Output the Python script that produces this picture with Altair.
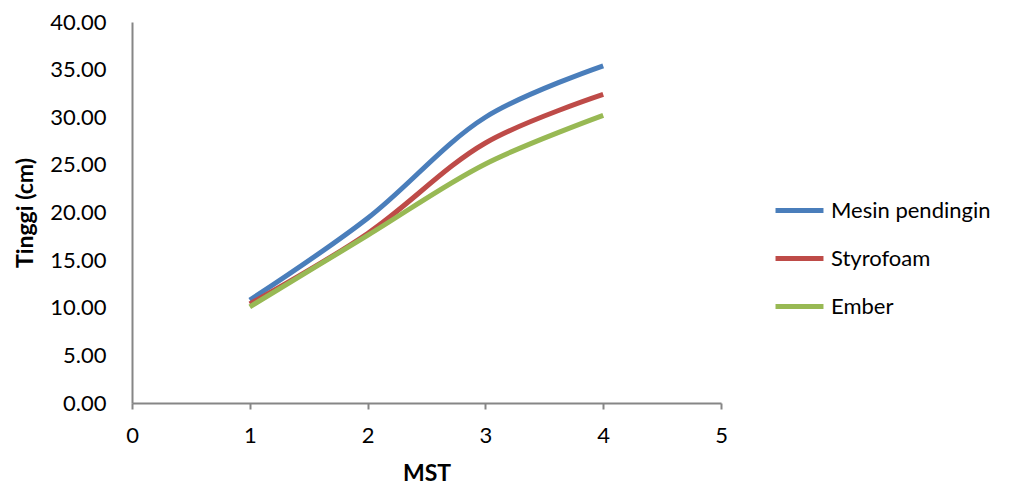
import altair as alt
import pandas as pd

mst = [1, 2, 3, 4]
mesin = [10.8, 19.4, 30.0, 35.4]
styrofoam = [10.4, 17.8, 27.3, 32.4]
ember = [10.1, 17.6, 25.1, 30.2]
series = ["Mesin pendingin", "Styrofoam", "Ember"]
colors = ["#4A7EBB", "#BE4B48", "#98B954"]

rows = []
for name, vals in zip(series, [mesin, styrofoam, ember]):
    for x, v in zip(mst, vals):
        rows.append({"MST": x, "Tinggi": v, "Seri": name})
df = pd.DataFrame(rows)

font = "Lato"

chart = alt.Chart(df).mark_line(strokeWidth=5, interpolate="catmull-rom").encode(
    x=alt.X("MST:Q", title="MST",
            scale=alt.Scale(domain=[0, 5], nice=False),
            axis=alt.Axis(values=[0, 1, 2, 3, 4, 5], format="d", grid=False,
                          labelFlush=False,
                          tickSize=6, labelPadding=16, titlePadding=16,
                          domainColor="#868686", tickColor="#868686", domainWidth=2, tickWidth=2)),
    y=alt.Y("Tinggi:Q", title="Tinggi (cm)",
            scale=alt.Scale(domain=[0, 40], nice=False),
            axis=alt.Axis(values=[0, 5, 10, 15, 20, 25, 30, 35, 40], format=".2f", grid=False,
                          ticks=False, labelPadding=26, titlePadding=12,
                          domainColor="#868686", domainWidth=2)),
    color=alt.Color("Seri:N", sort=series,
                    scale=alt.Scale(domain=series, range=colors),
                    legend=alt.Legend(title=None, orient="none", legendX=641, legendY=162,
                                      symbolType="stroke", symbolSize=2300, symbolStrokeWidth=5,
                                      labelFontSize=22, labelFont=font, labelColor="#000000",
                                      rowPadding=10, labelOffset=5)),
).properties(
    width=589, height=381,
    autosize=alt.AutoSizeParams(type="none"),
    padding={"left": 132, "top": 22, "right": 292, "bottom": 86},
    background="white",
).configure_axis(
    labelFont=font, labelFontSize=22, labelColor="#000000",
    titleFont=font, titleFontSize=23, titleFontWeight="bold", titleColor="#000000",
).configure_view(stroke=None)

chart.save("out.html", embed_options={"renderer": "svg", "actions": False})
